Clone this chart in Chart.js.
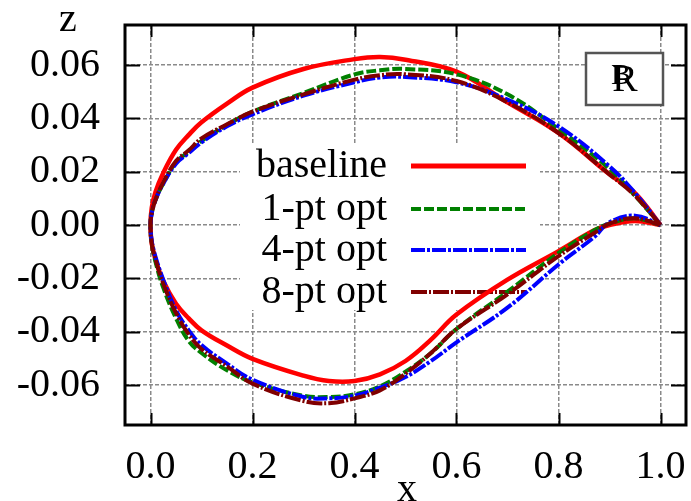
<!DOCTYPE html>
<html>
<head>
<meta charset="utf-8">
<script src="https://cdn.jsdelivr.net/npm/chart.js@4"></script>
<style>
  html, body { margin: 0; padding: 0; background: #fff; }
  #wrap { width: 691px; height: 501px; }
</style>
</head>
<body>
<div id="wrap"><canvas id="chart"></canvas></div>
<script>
// chord positions, upper surface goes TE -> LE, lower goes LE -> TE
const xUpper = [1.0, 0.95, 0.9, 0.8, 0.7, 0.6, 0.5, 0.45, 0.4, 0.3, 0.2, 0.15, 0.1, 0.075, 0.05, 0.025, 0.01, 0.0025, 0.0];
const xLower = [0.0025, 0.01, 0.025, 0.05, 0.075, 0.1, 0.15, 0.2, 0.3, 0.35, 0.4, 0.45, 0.5, 0.55, 0.6, 0.7, 0.8, 0.87, 0.9, 0.95, 1.0];

const baselineUpper = [0, 0.012, 0.019, 0.0345, 0.046, 0.0575, 0.062, 0.063, 0.0622, 0.0585, 0.0515, 0.0455, 0.0385, 0.0338, 0.0282, 0.0195, 0.0125, 0.0065, 0];
const baselineLower = [-0.007, -0.013, -0.021, -0.0295, -0.035, -0.0395, -0.0452, -0.0502, -0.0565, -0.0585, -0.0585, -0.056, -0.051, -0.043, -0.0336, -0.0205, -0.0098, -0.002, 0.0, 0.0015, 0];

const opt1Upper = [0, 0.011, 0.021, 0.036, 0.049, 0.0565, 0.0585, 0.058, 0.0565, 0.0495, 0.0425, 0.0375, 0.0315, 0.0275, 0.0235, 0.0155, 0.0095, 0.0045, 0];
const opt1Lower = [-0.007, -0.014, -0.0235, -0.035, -0.0435, -0.048, -0.0545, -0.059, -0.064, -0.0645, -0.0635, -0.0605, -0.055, -0.048, -0.039, -0.025, -0.0105, -0.002, 0.0005, 0.0025, 0];

const opt4Upper = [0, 0.012, 0.022, 0.037, 0.047, 0.0535, 0.0555, 0.0553, 0.0535, 0.0485, 0.0415, 0.037, 0.031, 0.027, 0.023, 0.0155, 0.0095, 0.0045, 0];
const opt4Lower = [-0.006, -0.012, -0.0205, -0.032, -0.0395, -0.045, -0.052, -0.058, -0.0645, -0.065, -0.064, -0.061, -0.057, -0.051, -0.044, -0.031, -0.0148, -0.0045, 0.001, 0.0035, 0];

const opt8Upper = [0, 0.011, 0.019, 0.0345, 0.046, 0.054, 0.0565, 0.0562, 0.0545, 0.049, 0.0425, 0.0378, 0.0325, 0.028, 0.024, 0.016, 0.0095, 0.0045, 0];
const opt8Lower = [-0.007, -0.013, -0.022, -0.033, -0.041, -0.0465, -0.053, -0.0595, -0.066, -0.0668, -0.065, -0.062, -0.0557, -0.048, -0.039, -0.026, -0.0117, -0.003, 0.0005, 0.0025, 0];

const xTicks = [0.0, 0.2, 0.4, 0.6, 0.8, 1.0];
const yTicks = [-0.06, -0.04, -0.02, 0.0, 0.02, 0.04, 0.06];

const seriesNames = ['baseline', '1-pt opt', '4-pt opt', '8-pt opt'];
const seriesColors = ['#ff0000', '#008000', '#0000ff', '#800000'];
const seriesDash = [[], [10, 3], [14, 2, 3, 2], [16, 2, 2, 2]];

const FONT = '"Liberation Serif", "DejaVu Serif", serif';

function outline(upper, lower) {
  const pts = xUpper.map((x, i) => ({ x: x, y: upper[i] }));
  return pts.concat(xLower.map((x, i) => ({ x: x, y: lower[i] })));
}

const shapes = [
  outline(baselineUpper, baselineLower),
  outline(opt1Upper, opt1Lower),
  outline(opt4Upper, opt4Lower),
  outline(opt8Upper, opt8Lower),
];

const datasets = shapes.map((pts, i) => ({
  label: seriesNames[i],
  data: pts,
  showLine: true,
  borderColor: seriesColors[i],
  borderWidth: i === 0 ? 4.5 : 4,
  borderDash: seriesDash[i],
  pointRadius: 0,
  tension: 0.4,
  fill: false,
  order: 4 - i,
}));

// no extra padding for the tick labels, the frame is fixed
function noPad(s) {
  s.paddingLeft = 0; s.paddingRight = 0; s.paddingTop = 0; s.paddingBottom = 0;
}

// frame, inner ticks, key and the boxed letter, gnuplot style
const decor = {
  id: 'decor',
  beforeDatasetsDraw(chart) {
    const { ctx } = chart;
    ctx.save();
    ctx.fillStyle = '#fff';
    ctx.fillRect(240, 145, 300, 165);
    const rows = [166, 209, 250, 292];
    ctx.font = '40px ' + FONT;
    ctx.textAlign = 'right';
    ctx.textBaseline = 'middle';
    rows.forEach((ry, i) => {
      ctx.fillStyle = '#000';
      ctx.fillText(seriesNames[i], 387, ry);
      ctx.strokeStyle = seriesColors[i];
      ctx.lineWidth = i === 0 ? 5 : 4;
      ctx.setLineDash(seriesDash[i]);
      ctx.beginPath();
      ctx.moveTo(411, ry);
      ctx.lineTo(526, ry);
      ctx.stroke();
    });
    ctx.restore();
  },
  afterDraw(chart) {
    const { ctx, chartArea: a, scales } = chart;
    ctx.save();
    ctx.strokeStyle = '#000';
    ctx.lineWidth = 2;
    ctx.beginPath();
    xTicks.forEach(v => {
      const px = Math.round(scales.x.getPixelForValue(v)) + 0.5;
      ctx.moveTo(px, a.bottom); ctx.lineTo(px, a.bottom - 12);
      ctx.moveTo(px, a.top); ctx.lineTo(px, a.top + 12);
    });
    yTicks.forEach(v => {
      const py = Math.round(scales.y.getPixelForValue(v)) + 0.5;
      ctx.moveTo(a.left, py); ctx.lineTo(a.left + 15, py);
      ctx.moveTo(a.right, py); ctx.lineTo(a.right - 15, py);
    });
    ctx.stroke();
    ctx.lineWidth = 3;
    ctx.strokeRect(a.left, a.top, a.right - a.left, a.bottom - a.top);

    // boxed letter
    ctx.fillStyle = '#fff';
    ctx.fillRect(586, 53, 77, 52);
    ctx.strokeStyle = '#555';
    ctx.lineWidth = 2.5;
    ctx.strokeRect(586, 53, 77, 52);
    ctx.fillStyle = '#000';
    ctx.font = '38px ' + FONT;
    ctx.textAlign = 'center';
    ctx.textBaseline = 'middle';
    ctx.fillText('R', 625, 81);
    ctx.font = '30px ' + FONT;
    ctx.fillText('B', 621, 76);

    // axis names
    ctx.font = '40px ' + FONT;
    ctx.fillText('z', 68, 20);
    ctx.fillText('x', 407, 490);
    ctx.restore();
  }
};

const ctx = document.getElementById('chart').getContext('2d');
new Chart(ctx, {
  type: 'scatter',
  data: { datasets: datasets },
  options: {
    responsive: true,
    maintainAspectRatio: false,
    animation: false,
    devicePixelRatio: 1,
    layout: { padding: { top: 25, right: 5, bottom: 0, left: 0 } },
    plugins: { legend: { display: false }, tooltip: { enabled: false } },
    scales: {
      x: {
        type: 'linear',
        min: -0.05,
        max: 1.05,
        afterBuildTicks: s => { s.ticks = xTicks.map(v => ({ value: v })); },
        afterFit: s => { s.height = 76; noPad(s); },
        ticks: {
          callback: v => v.toFixed(1),
          font: { family: FONT, size: 40 },
          color: '#000',
          padding: 18,
          maxRotation: 0,
          autoSkip: false,
        },
        grid: { color: '#8a8a8a', lineWidth: 1.5, drawTicks: false },
        border: { display: false, dash: [4, 2] },
      },
      y: {
        type: 'linear',
        min: -0.075,
        max: 0.075,
        afterBuildTicks: s => { s.ticks = yTicks.map(v => ({ value: v })); },
        afterFit: s => { s.width = 125; noPad(s); },
        ticks: {
          callback: v => v.toFixed(2),
          font: { family: FONT, size: 40 },
          color: '#000',
          padding: 25,
          autoSkip: false,
        },
        grid: { color: '#8a8a8a', lineWidth: 1.5, drawTicks: false },
        border: { display: false, dash: [4, 2] },
      },
    },
  },
  plugins: [decor],
});
</script>
</body>
</html>
